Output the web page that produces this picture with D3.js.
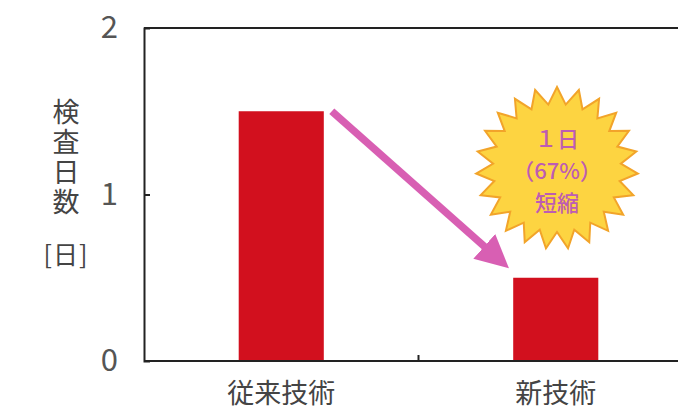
<!DOCTYPE html>
<html><head><meta charset="utf-8">
<script src="https://cdn.jsdelivr.net/npm/d3@7"></script>
<style>body{margin:0;background:#fff}svg{display:block}</style>
</head><body>
<script>
const categories = ["従来技術", "新技術"];
const values = [1.5, 0.5];
const yTicks = [0, 1, 2];
const yTitle = "検査日数";
const yUnit = "[日]";
const badgeLines = ["１日", "（67%）", "短縮"];

const W = 678, H = 412;
const svg = d3.select("body").append("svg").attr("width", W).attr("height", H);
const font = "'Noto Sans CJK JP', 'Noto Sans', sans-serif";

const x = d3.scaleBand().domain(categories).range([144, 693]).paddingInner(0.69).paddingOuter(0.345);
const y = d3.scaleLinear().domain([0, 2]).range([361, 28]);

// bars
svg.selectAll("rect.bar").data(values).join("rect")
  .attr("x", (d, i) => x(categories[i])).attr("width", x.bandwidth())
  .attr("y", d => y(d)).attr("height", d => y(0) - y(d))
  .attr("fill", "#d2101e");

// frame: top line
svg.append("line").attr("x1", 144).attr("x2", W).attr("y1", y(2)).attr("y2", y(2))
  .attr("stroke", "#222").attr("stroke-width", 2);

// y axis
const yAxis = svg.append("g").attr("transform", "translate(144,0)")
  .call(d3.axisLeft(y).tickValues(yTicks).tickSize(-6).tickPadding(26).tickFormat(d3.format("d")));
yAxis.select(".domain").attr("stroke", "#222").attr("stroke-width", 2);
yAxis.selectAll(".tick line").attr("stroke", "#222").attr("stroke-width", 2)
  .attr("display", d => (d === 1 ? null : "none"));
yAxis.selectAll("text").attr("font-family", font).attr("font-size", 31).attr("fill", "#555");

// x axis
const xAxis = svg.append("g").attr("transform", `translate(0,${y(0)})`)
  .call(d3.axisBottom(x).tickSize(0).tickPadding(0));
xAxis.select(".domain").attr("d", `M144,0H${W}`).attr("stroke", "#222").attr("stroke-width", 2);
xAxis.selectAll("text").attr("font-family", font).attr("font-size", 27).attr("fill", "#444")
  .attr("y", 30).attr("dy", null).attr("dominant-baseline", "central");
// middle tick between categories
const mid = (x(categories[0]) + x(categories[1]) + x.bandwidth()) / 2;
svg.append("line").attr("x1", mid).attr("x2", mid).attr("y1", y(0)).attr("y2", y(0) - 6)
  .attr("stroke", "#222").attr("stroke-width", 2);

// y title (vertical text)
svg.append("text").attr("x", 66).attr("y", 98)
  .attr("writing-mode", "vertical-rl").attr("text-anchor", "start")
  .attr("letter-spacing", 3).attr("font-family", font).attr("font-size", 27).attr("fill", "#444")
  .text(yTitle);
svg.append("text").attr("x", 66).attr("y", 253).attr("text-anchor", "middle")
  .attr("dominant-baseline", "central").attr("font-family", font).attr("font-size", 25)
  .attr("letter-spacing", 1).attr("fill", "#444").text(yUnit);

// arrow
const defs = svg.append("defs");
defs.append("marker").attr("id", "ah").attr("viewBox", "0 0 10 10").attr("refX", 2).attr("refY", 5)
  .attr("markerWidth", 4.4).attr("markerHeight", 4.4).attr("orient", "auto").attr("markerUnits", "strokeWidth")
  .append("path").attr("d", "M0,0L10,5L0,10Z").attr("fill", "#d85fb3");
const x0 = x(categories[0]) + x.bandwidth() + 8, y0 = y(values[0]);
const x1 = x(categories[1]) - 24, y1 = y(values[1]) - 27;
svg.append("line").attr("x1", x0).attr("y1", y0).attr("x2", x1).attr("y2", y1)
  .attr("stroke", "#d85fb3").attr("stroke-width", 7.5).attr("marker-end", "url(#ah)");

// starburst
const cx = 557, cy = 168, rO = 81, rI = 64, n = 23;
const pts = d3.range(n * 2).map(i => {
  const r = i % 2 === 0 ? rO : rI;
  const a = -Math.PI / 2 + i * Math.PI / n;
  return [cx + r * Math.cos(a), cy + r * Math.sin(a)];
});
svg.append("path").attr("d", d3.line()(pts) + "Z")
  .attr("fill", "#fdd441").attr("stroke", "#f2a42a").attr("stroke-width", 2);
const bt = svg.append("text").attr("x", cx).attr("y", cy - 31)
  .attr("text-anchor", "middle").attr("dominant-baseline", "central")
  .attr("font-family", font).attr("font-size", 22).attr("font-weight", 500).attr("fill", "#bd5cb3");
bt.selectAll("tspan").data(badgeLines).join("tspan")
  .attr("x", cx).attr("dy", (d, i) => (i === 0 ? 0 : 32)).text(d => d);
</script>
</body></html>
